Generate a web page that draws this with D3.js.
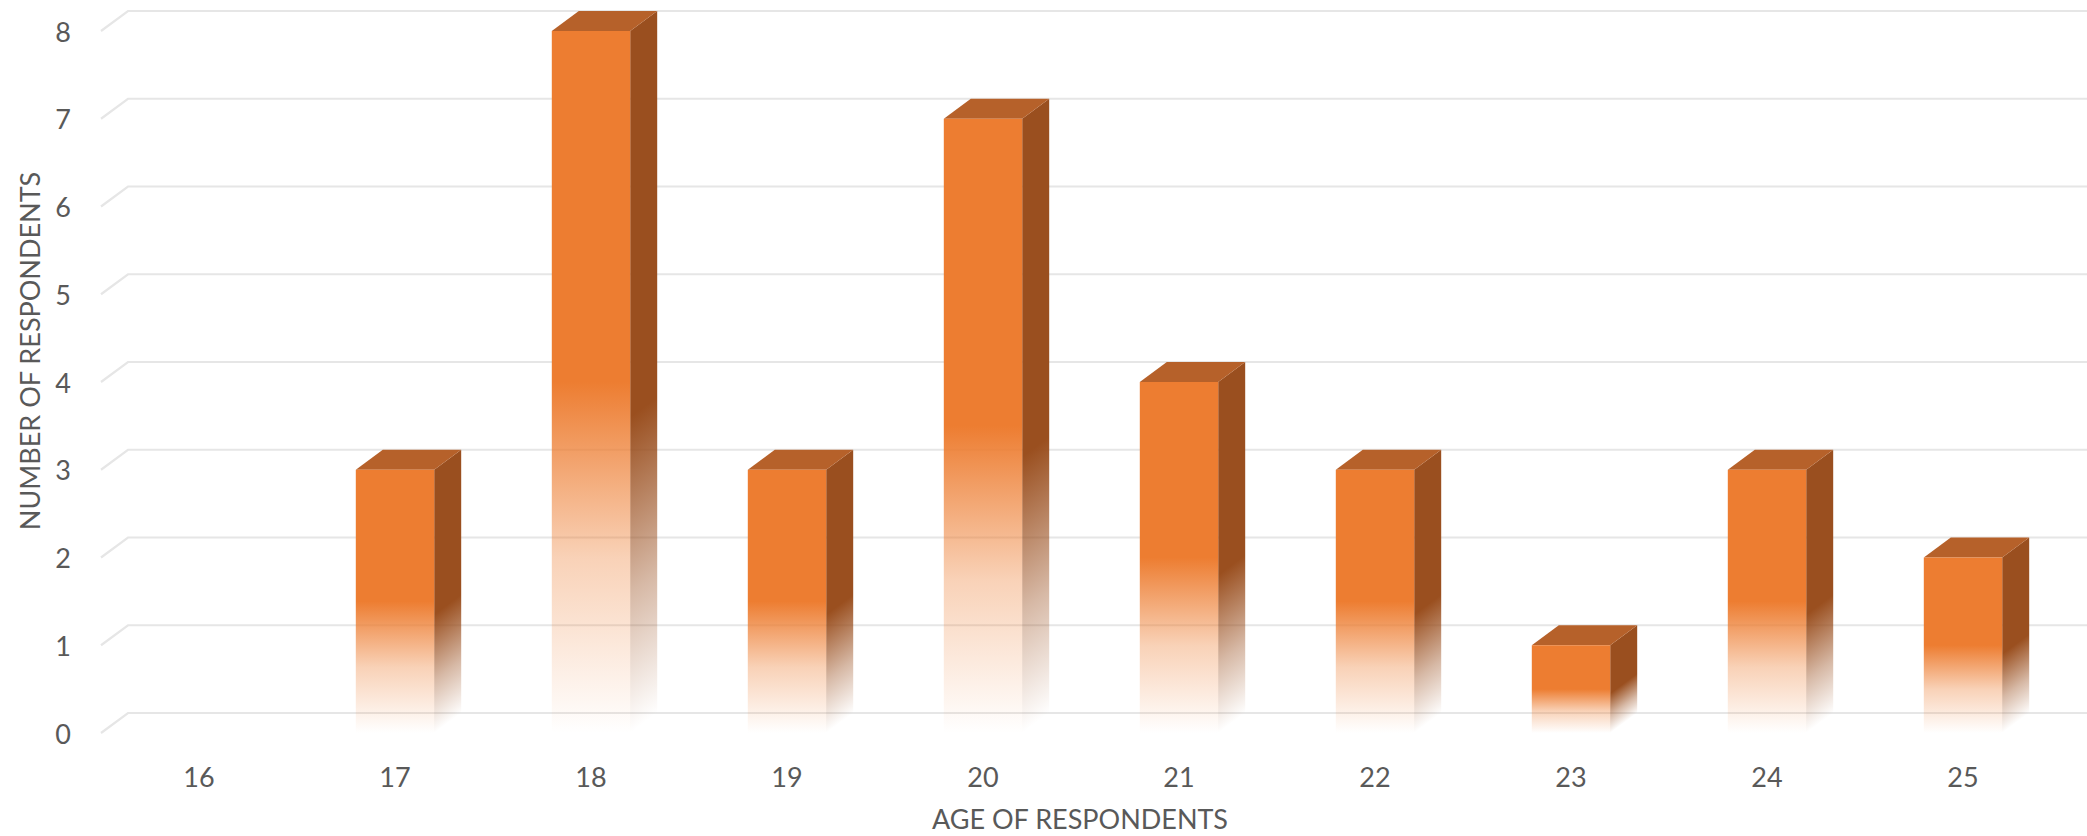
<!DOCTYPE html>
<html>
<head>
<meta charset="utf-8">
<script src="https://cdn.jsdelivr.net/npm/d3@7"></script>
<style>
  html, body { margin: 0; padding: 0; background: #ffffff; }
  svg { display: block; }
  text { font-family: Lato, "Open Sans", "DejaVu Sans", sans-serif; fill: #595959; }
</style>
</head>
<body>
<svg id="chart" width="2087" height="836"></svg>
<script>
// Respondents by age
const ages = ["16", "17", "18", "19", "20", "21", "22", "23", "24", "25"];
const counts = [0, 3, 8, 3, 7, 4, 3, 1, 3, 2];
const yTicks = [0, 1, 2, 3, 4, 5, 6, 7, 8];
const xTitle = "AGE OF RESPONDENTS";
const yTitle = "NUMBER OF RESPONDENTS";

const W = 2087, H = 836;
const DX = 27, DY = 20;          // depth offset from front plane to back wall
const base = "#ED7D31", topCol = "#B6612A", sideCol = "#9A4F1F";

const svg = d3.select("#chart");
const defs = svg.append("defs");

// back-wall scale; the front plane sits DY lower and DX to the left
const yBack = d3.scaleLinear().domain([0, 8]).range([713, 11]);
const yFront = v => yBack(v) + DY;

const x = d3.scaleBand().domain(ages).range([101, 2061])
  .paddingInner(0.6).paddingOuter(0.3);

// gridlines: a diagonal on the side wall and a horizontal on the back wall
const grid = svg.append("g").attr("stroke", "#E6E6E6").attr("stroke-width", 2.2).attr("fill", "none");
grid.selectAll("path").data(yTicks).join("path")
  .attr("d", v => `M${101},${yFront(v)} L${101 + DX},${yBack(v)} L${W},${yBack(v)}`);

// front-face gradient: solid for the upper half, fading out toward the floor
const fg = defs.append("linearGradient").attr("id", "frontFade")
  .attr("x1", 0).attr("y1", 0).attr("x2", 0).attr("y2", 1);
fg.append("stop").attr("offset", 0).attr("stop-color", base).attr("stop-opacity", 1);
fg.append("stop").attr("offset", 0.5).attr("stop-color", base).attr("stop-opacity", 1);
fg.append("stop").attr("offset", 0.75).attr("stop-color", base).attr("stop-opacity", 0.35);
fg.append("stop").attr("offset", 1).attr("stop-color", base).attr("stop-opacity", 0);

const data = ages.map((a, i) => ({ age: a, v: counts[i] })).filter(d => d.v > 0);

const bars = svg.append("g").selectAll("g").data(data).join("g");

// side-face gradients, with fade lines running parallel to the depth slant
bars.each(function(d, i) {
  const xl = x(d.age), xr = xl + x.bandwidth();
  const yt = yFront(d.v), y0 = yFront(0);
  const h = y0 - yt;
  const k = h * DX / (DX * DX + DY * DY);
  const g = defs.append("linearGradient").attr("id", "side" + i)
    .attr("gradientUnits", "userSpaceOnUse")
    .attr("x1", xr).attr("y1", yt).attr("x2", xr + k * DY).attr("y2", yt + k * DX);
  g.append("stop").attr("offset", 0).attr("stop-color", sideCol).attr("stop-opacity", 1);
  g.append("stop").attr("offset", 0.55).attr("stop-color", sideCol).attr("stop-opacity", 1);
  g.append("stop").attr("offset", 0.8).attr("stop-color", sideCol).attr("stop-opacity", 0.4);
  g.append("stop").attr("offset", 1).attr("stop-color", sideCol).attr("stop-opacity", 0);
  d.sideId = "side" + i;
});

// side face
bars.append("path")
  .attr("fill", d => `url(#${d.sideId})`)
  .attr("d", d => {
    const xr = x(d.age) + x.bandwidth();
    const yt = yFront(d.v), y0 = yFront(0);
    return `M${xr},${yt} L${xr + DX},${yt - DY} L${xr + DX},${y0 - DY} L${xr},${y0} Z`;
  });

// top face
bars.append("path")
  .attr("fill", topCol)
  .attr("d", d => {
    const xl = x(d.age), xr = xl + x.bandwidth();
    const yt = yFront(d.v);
    return `M${xl},${yt} L${xl + DX},${yt - DY} L${xr + DX},${yt - DY} L${xr},${yt} Z`;
  });

// front face
bars.append("rect")
  .attr("fill", "url(#frontFade)")
  .attr("x", d => x(d.age))
  .attr("y", d => yFront(d.v))
  .attr("width", x.bandwidth())
  .attr("height", d => yFront(0) - yFront(d.v));

// y tick labels
svg.append("g").selectAll("text").data(yTicks).join("text")
  .attr("x", 71).attr("y", v => yFront(v))
  .attr("text-anchor", "end").attr("dominant-baseline", "central")
  .attr("font-size", 27)
  .text(v => v);

// x tick labels
svg.append("g").selectAll("text").data(ages).join("text")
  .attr("x", a => x(a) + x.bandwidth() / 2).attr("y", 776)
  .attr("text-anchor", "middle").attr("dominant-baseline", "central")
  .attr("font-size", 27)
  .text(a => a);

// axis titles
svg.append("text")
  .attr("x", 1080).attr("y", 829)
  .attr("text-anchor", "middle")
  .attr("font-size", 27)
  .text(xTitle);

svg.append("text")
  .attr("transform", "translate(29,351) rotate(-90)")
  .attr("text-anchor", "middle").attr("dominant-baseline", "central")
  .attr("font-size", 27)
  .text(yTitle);
</script>
</body>
</html>
